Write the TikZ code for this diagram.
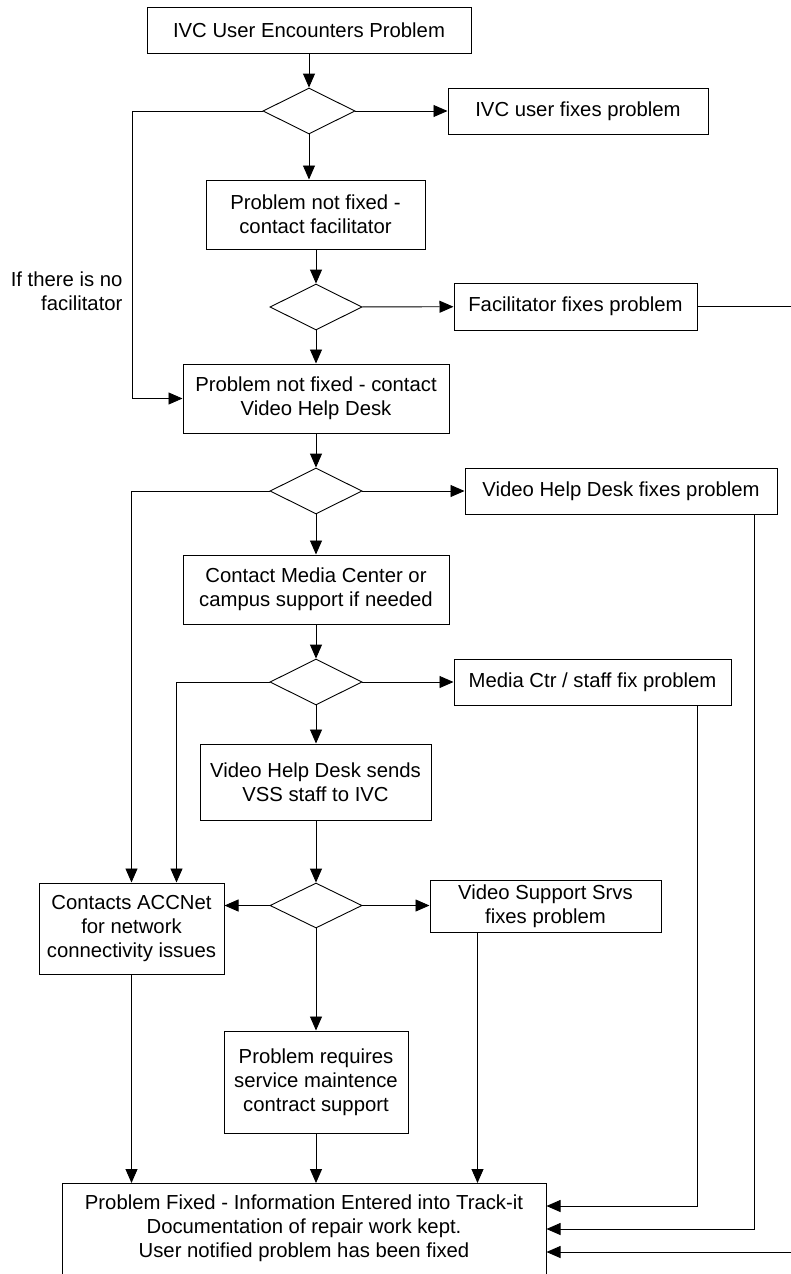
\documentclass[tikz,border=0pt]{standalone}
\usepackage{fontspec}
\setmainfont{Liberation Sans}
\usetikzlibrary{shapes.geometric,arrows.meta,calc}

\begin{document}
\begin{tikzpicture}[x=1pt,y=-1pt,
  every node/.style={font=\fontsize{20.3}{24}\selectfont},
  box/.style={draw, line width=1pt, rectangle, inner sep=0pt, align=center},
  decision/.style={draw, line width=0.9pt, diamond, inner sep=0pt,
    minimum width=92pt, minimum height=46pt, aspect=2},
  link/.style={line width=0.9pt},
  arr/.style={link, -{Triangle[length=14pt,width=12pt]}},
]
\path[use as bounding box, clip] (0,0) rectangle (791,1274);

% main column
\node[box, minimum width=324pt, minimum height=46pt] (start) at (309,30) {IVC User Encounters Problem};
\node[decision] (d1) at (309,111) {};
\node[box, minimum width=260pt, minimum height=46pt] (f1) at (578,111) {IVC user fixes problem};
\node[box, minimum width=219pt, minimum height=69pt] (n2) at (315.5,214.5) {Problem not fixed -\\contact facilitator};
\node[decision] (d2) at (316,307) {};
\node[box, minimum width=243pt, minimum height=47pt] (f2) at (575.5,306.5) {Facilitator fixes problem};
\node[align=right, anchor=east] (nofac) at (126,291) {If there is no\\facilitator};
\node[box, minimum width=266pt, minimum height=69pt] (n3) at (316,398.5) {Problem not fixed - contact\\Video Help Desk};
\node[decision] (d3) at (316,491) {};
\node[box, minimum width=312pt, minimum height=46pt] (f3) at (621,491) {Video Help Desk fixes problem};
\node[box, minimum width=266pt, minimum height=69pt] (n4) at (316,589.5) {Contact Media Center or\\campus support if needed};
\node[decision] (d4) at (316,682) {};
\node[box, minimum width=277pt, minimum height=46pt] (f4) at (592.5,682) {Media Ctr / staff fix problem};
\node[box, minimum width=231pt, minimum height=76pt] (n5) at (315.5,782) {Video Help Desk sends\\VSS staff to IVC};
\node[decision, minimum height=45pt] (d5) at (316,905.5) {};
\node[box, minimum width=185pt, minimum height=91pt] (acc) at (131.5,928.5) {Contacts ACCNet\\for network\\connectivity issues};
\node[box, minimum width=231pt, minimum height=52pt] (f5) at (545.5,906) {Video Support Srvs\\fixes problem};
\node[box, minimum width=184pt, minimum height=102pt] (n6) at (316,1082) {Problem requires\\service maintence\\contract support};
\node[box, minimum width=484pt, minimum height=140pt, anchor=north] (fin) at (304,1183) {};
\node[align=center] (fintext) at (304,1228) {Problem Fixed - Information Entered into Track-it\\Documentation of repair work kept.\\User notified problem has been fixed};

% where the return lines leave and join
\coordinate (side) at (132,111);
\coordinate (edge) at (800,306.5);
\coordinate (accin) at ($(acc.north)+(45,0)$);
\coordinate (vssout) at ($(f5.south west)+(48,0)$);
\coordinate (mcout) at ($(f4.south east)+(-34,0)$);
\coordinate (vhdout) at ($(f3.south east)+(-23,0)$);
\coordinate (finA) at ($(fin.north east)+(0,23)$);
\coordinate (finB) at ($(fin.north east)+(0,46)$);
\coordinate (finC) at ($(fin.north east)+(0,69)$);

% down the main column
\draw[arr] (start) -- (d1);
\draw[arr] (d1.south) -- (d1.south |- n2.north);
\draw[arr] (n2.south -| d2.north) -- (d2.north);
\draw[arr] (d2) -- (n3);
\draw[arr] (n3) -- (d3);
\draw[arr] (d3) -- (n4);
\draw[arr] (n4) -- (d4);
\draw[arr] (d4.south) -- (d4.south |- n5.north);
\draw[arr] (n5.south -| d5.north) -- (d5.north);
\draw[arr] (d5) -- (n6);

% fixed-here branches
\draw[arr] (d1) -- (f1);
\draw[arr] (d2) -- (f2);
\draw[arr] (d3) -- (f3);
\draw[arr] (d4) -- (f4);
\draw[arr] (d5.east) -- (d5.east -| f5.west);
\draw[arr] (d5.west) -- (d5.west -| acc.east);

% no facilitator
\draw[arr] (d1.west) -- (side) |- (n3.west);

% to ACCNet
\draw[arr] (d3.west) -| (acc.north);
\draw[arr] (d4.west) -| (accin);

% into the final box
\draw[arr] (acc.south) -- (acc.south |- fin.north);
\draw[arr] (n6.south) -- (n6.south |- fin.north);
\draw[arr] (vssout) -- (vssout |- fin.north);
\draw[arr] (mcout) |- (finA);
\draw[arr] (vhdout) |- (finB);
\draw[arr] (f2.east) -- (edge) |- (finC);
\end{tikzpicture}
\end{document}
